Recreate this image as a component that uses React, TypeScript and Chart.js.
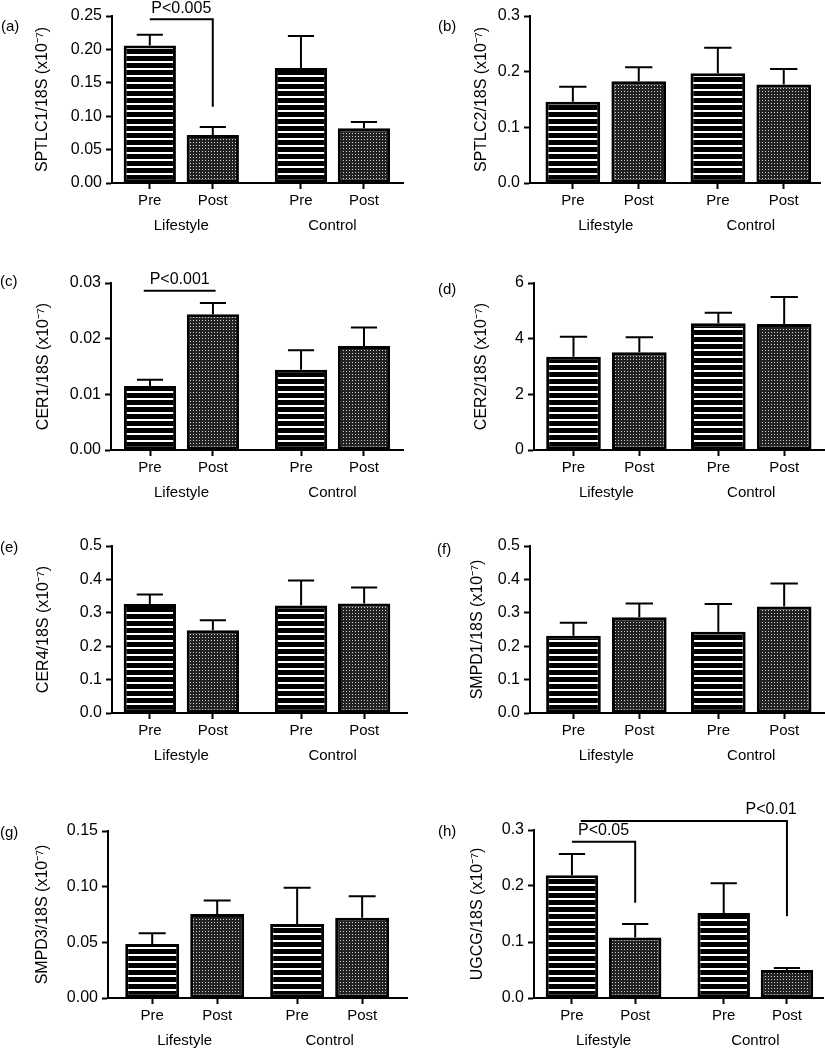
import React, { useEffect, useRef } from "react";
import { Chart, registerables } from "chart.js";

Chart.register(...registerables);

const FONT = '"Liberation Sans", Arial, Helvetica, sans-serif';

// ---------- data ----------
const categories = ["Pre", "Post", "Pre", "Post"];
const groups = ["Lifestyle", "Control"];

const sptlc1Mean = [0.206, 0.072, 0.172, 0.082];
const sptlc1Sem = [0.016, 0.012, 0.048, 0.0095];
const sptlc1Ticks = [0, 0.05, 0.1, 0.15, 0.2, 0.25];

const sptlc2Mean = [0.146, 0.183, 0.197, 0.177];
const sptlc2Sem = [0.027, 0.025, 0.046, 0.028];
const sptlc2Ticks = [0, 0.1, 0.2, 0.3];

const cer1Mean = [0.0115, 0.0244, 0.0144, 0.0187];
const cer1Sem = [0.0011, 0.002, 0.0035, 0.0033];
const cer1Ticks = [0, 0.01, 0.02, 0.03];

const cer2Mean = [3.35, 3.51, 4.55, 4.53];
const cer2Sem = [0.72, 0.54, 0.38, 0.97];
const cer2Ticks = [0, 2, 4, 6];

const cer4Mean = [0.326, 0.248, 0.322, 0.328];
const cer4Sem = [0.029, 0.03, 0.075, 0.048];
const cer4Ticks = [0, 0.1, 0.2, 0.3, 0.4, 0.5];

const smpd1Mean = [0.231, 0.287, 0.243, 0.319];
const smpd1Sem = [0.039, 0.041, 0.083, 0.069];
const smpd1Ticks = [0, 0.1, 0.2, 0.3, 0.4, 0.5];

const smpd3Mean = [0.0485, 0.0755, 0.0665, 0.072];
const smpd3Sem = [0.0096, 0.012, 0.0325, 0.0195];
const smpd3Ticks = [0, 0.05, 0.1, 0.15];

const ugcgMean = [0.219, 0.108, 0.152, 0.05];
const ugcgSem = [0.038, 0.024, 0.053, 0.0036];
const ugcgTicks = [0, 0.1, 0.2, 0.3];

type Bracket = { from: number; to: number; y: number; drop: number | null; text: string; textAt?: number };

const sptlc1Brackets: Bracket[] = [{ from: 0, to: 1, y: 0.245, drop: 0.114, text: "P<0.005" }];
const cer1Brackets: Bracket[] = [{ from: -0.1, to: 1.03, y: 0.0286, drop: null, text: "P<0.001" }];
const ugcgBrackets: Bracket[] = [
  { from: 0, to: 1, y: 0.279, drop: 0.17, text: "P<0.05" },
  { from: 0.14, to: 3, y: 0.316, drop: 0.146, text: "P<0.01", textAt: 2.75 },
];

// ---------- layout ----------
type Panel = {
  tag: string;
  ylabel: string;
  means: number[];
  sems: number[];
  yTicks: number[];
  dec: number;
  brackets: Bracket[];
  col: number;
  row: number;
  axisX: number;
  endX: number;
  plotTop: number;
  zeroY: number;
  gap: number;
  xMin: number;
  xMax: number;
  titleX: number;
  tagX: number;
  tagY: number;
};

const rowBoxes = [
  [0, 245],
  [253, 259],
  [516, 259],
  [795, 255],
];

const panels: Panel[] = [
  { tag: "(a)", ylabel: "SPTLC1/18S (x10⁻⁷)", means: sptlc1Mean, sems: sptlc1Sem, yTicks: sptlc1Ticks, dec: 2, brackets: sptlc1Brackets,
    col: 0, row: 0, axisX: 112, endX: 403, plotTop: 16, zeroY: 183, gap: 1.4, xMin: -0.6, xMax: 4.02, titleX: 42, tagX: 1, tagY: 26 },
  { tag: "(b)", ylabel: "SPTLC2/18S (x10⁻⁷)", means: sptlc2Mean, sems: sptlc2Sem, yTicks: sptlc2Ticks, dec: 1, brackets: [],
    col: 1, row: 0, axisX: 530, endX: 820, plotTop: 16, zeroY: 183, gap: 1.2, xMin: -0.65, xMax: 3.75, titleX: 481, tagX: 438, tagY: 26 },
  { tag: "(c)", ylabel: "CER1/18S (x10⁻⁷)", means: cer1Mean, sems: cer1Sem, yTicks: cer1Ticks, dec: 2, brackets: cer1Brackets,
    col: 0, row: 1, axisX: 111, endX: 403, plotTop: 283, zeroY: 450, gap: 1.4, xMin: -0.62, xMax: 4.02, titleX: 43, tagX: 0, tagY: 281 },
  { tag: "(d)", ylabel: "CER2/18S (x10⁻⁷)", means: cer2Mean, sems: cer2Sem, yTicks: cer2Ticks, dec: 0, brackets: [],
    col: 1, row: 1, axisX: 534, endX: 825, plotTop: 283, zeroY: 450, gap: 1.2, xMin: -0.6, xMax: 3.82, titleX: 481, tagX: 438, tagY: 289 },
  { tag: "(e)", ylabel: "CER4/18S (x10⁻⁷)", means: cer4Mean, sems: cer4Sem, yTicks: cer4Ticks, dec: 1, brackets: [],
    col: 0, row: 2, axisX: 112, endX: 407, plotTop: 546, zeroY: 713, gap: 1.4, xMin: -0.6, xMax: 4.08, titleX: 43, tagX: 0, tagY: 547 },
  { tag: "(f)", ylabel: "SMPD1/18S (x10⁻⁷)", means: smpd1Mean, sems: smpd1Sem, yTicks: smpd1Ticks, dec: 1, brackets: [],
    col: 1, row: 2, axisX: 530, endX: 825, plotTop: 546, zeroY: 713, gap: 1.2, xMin: -0.66, xMax: 3.82, titleX: 477, tagX: 437, tagY: 549 },
  { tag: "(g)", ylabel: "SMPD3/18S (x10⁻⁷)", means: smpd3Mean, sems: smpd3Sem, yTicks: smpd3Ticks, dec: 2, brackets: [],
    col: 0, row: 3, axisX: 108, endX: 407, plotTop: 831, zeroY: 998, gap: 1.23, xMin: -0.68, xMax: 3.92, titleX: 42, tagX: 0, tagY: 832 },
  { tag: "(h)", ylabel: "UGCG/18S (x10⁻⁷)", means: ugcgMean, sems: ugcgSem, yTicks: ugcgTicks, dec: 1, brackets: ugcgBrackets,
    col: 1, row: 3, axisX: 534, endX: 823, plotTop: 830, zeroY: 998, gap: 1.4, xMin: -0.6, xMax: 3.97, titleX: 477, tagX: 438, tagY: 831 },
];

// ---------- patterns ----------
function makeStripe(): CanvasPattern {
  const c = document.createElement("canvas");
  c.width = 4;
  c.height = 7;
  const g = c.getContext("2d")!;
  g.fillStyle = "#000";
  g.fillRect(0, 0, 4, 7);
  g.fillStyle = "#fff";
  g.fillRect(0, 5, 4, 2);
  return g.createPattern(c, "repeat")!;
}

function makeDots(): CanvasPattern {
  const c = document.createElement("canvas");
  c.width = 3;
  c.height = 3;
  const g = c.getContext("2d")!;
  g.fillStyle = "#222";
  g.fillRect(0, 0, 3, 3);
  g.fillStyle = "#cfcfcf";
  g.fillRect(1, 1, 1, 1);
  return g.createPattern(c, "repeat")!;
}

function PanelChart({ p }: { p: Panel }) {
  const ref = useRef<HTMLCanvasElement>(null);
  const x0 = p.col === 0 ? 0 : 410;
  const cw = p.col === 0 ? 410 : 415;
  const [ctop, ch] = rowBoxes[p.row];

  useEffect(() => {
    const positions = [0, 1, 1 + p.gap, 2 + p.gap];
    const posAt = (f: number) => {
      const i = Math.max(0, Math.min(Math.floor(f), 2));
      return positions[i] + (f - i) * (positions[i + 1] - positions[i]);
    };
    const stripe = makeStripe();
    const dots = makeDots();

    const errorBars = {
      id: "errorBars",
      afterDatasetsDraw(chart: any) {
        const ctx = chart.ctx;
        const xs = chart.scales.x;
        const ys = chart.scales.y;
        const meta = chart.getDatasetMeta(0);
        ctx.save();
        ctx.strokeStyle = "#000";
        ctx.lineWidth = 2;
        p.means.forEach((m, i) => {
          const bar = meta.data[i] as any;
          const x = xs.getPixelForValue(positions[i]);
          const yb = ys.getPixelForValue(m);
          const yt = ys.getPixelForValue(m + p.sems[i]);
          const hw = bar.width * 0.25;
          ctx.beginPath();
          ctx.moveTo(x, yb);
          ctx.lineTo(x, yt);
          ctx.moveTo(x - hw, yt);
          ctx.lineTo(x + hw, yt);
          ctx.stroke();
        });
        ctx.restore();
      },
    };

    const annotations = {
      id: "annotations",
      afterDraw(chart: any) {
        const ctx = chart.ctx;
        const xs = chart.scales.x;
        const ys = chart.scales.y;
        const bottom = chart.chartArea.bottom;
        ctx.save();
        ctx.fillStyle = "#000";
        ctx.font = `15px ${FONT}`;
        ctx.textAlign = "center";
        ctx.textBaseline = "middle";
        ctx.fillText(groups[0], xs.getPixelForValue((positions[0] + positions[1]) / 2), bottom + 43);
        ctx.fillText(groups[1], xs.getPixelForValue((positions[2] + positions[3]) / 2), bottom + 43);

        ctx.font = `16px ${FONT}`;
        ctx.strokeStyle = "#000";
        ctx.lineWidth = 2;
        p.brackets.forEach((b) => {
          const xa = xs.getPixelForValue(posAt(b.from));
          const xb = xs.getPixelForValue(posAt(b.to));
          const y = ys.getPixelForValue(b.y);
          ctx.beginPath();
          ctx.moveTo(xa, y);
          ctx.lineTo(xb, y);
          if (b.drop !== null) ctx.lineTo(xb, ys.getPixelForValue(b.drop));
          ctx.stroke();
          const tx = b.textAt !== undefined ? xs.getPixelForValue(posAt(b.textAt)) : (xa + xb) / 2;
          ctx.fillText(b.text, tx, y - 11);
        });
        ctx.restore();
      },
    };

    const gridOpts = {
      display: true,
      drawOnChartArea: false,
      drawTicks: true,
      tickLength: 6,
      tickColor: "#000",
      tickWidth: 2,
      offset: false,
    };
    const borderOpts = { display: true, color: "#000", width: 2 };

    const chart = new Chart(ref.current!, {
      type: "bar",
      data: {
        datasets: [
          {
            data: positions.map((x, i) => ({ x, y: p.means[i] })),
            backgroundColor: [stripe, dots, stripe, dots],
            borderColor: "#000",
            borderWidth: 3,
            borderSkipped: false,
            barPercentage: 0.83,
            categoryPercentage: 1,
          } as any,
        ],
      },
      options: {
        animation: false,
        responsive: false,
        events: [],
        layout: { padding: { top: p.plotTop - ctop, left: 0, right: x0 + cw - p.endX, bottom: 0 } },
        plugins: { legend: { display: false }, tooltip: { enabled: false }, title: { display: false } },
        scales: {
          x: {
            type: "linear",
            min: p.xMin,
            max: p.xMax,
            bounds: "data",
            offset: false,
            afterBuildTicks: (s: any) => {
              s.ticks = positions.map((v) => ({ value: v }));
            },
            afterFit: (s: any) => {
              s.height = ch - (p.zeroY - ctop);
            },
            grid: gridOpts,
            border: borderOpts,
            ticks: {
              padding: 3,
              color: "#000",
              font: { size: 15, family: FONT },
              autoSkip: false,
              maxRotation: 0,
              callback: (_v: any, i: number) => categories[i],
            },
          },
          y: {
            type: "linear",
            min: 0,
            max: p.yTicks[p.yTicks.length - 1],
            bounds: "data",
            afterBuildTicks: (s: any) => {
              s.ticks = p.yTicks.map((v) => ({ value: v }));
            },
            afterFit: (s: any) => {
              s.width = p.axisX - x0;
            },
            grid: gridOpts,
            border: borderOpts,
            ticks: {
              padding: 4,
              color: "#000",
              font: { size: 16, family: FONT },
              callback: (v: any) => Number(v).toFixed(p.dec),
            },
            title: {
              display: true,
              text: p.ylabel,
              color: "#000",
              font: { size: 16, family: FONT },
              padding: { top: p.titleX - x0 - 9, bottom: 0 },
            },
          },
        },
      } as any,
      plugins: [errorBars, annotations],
    });
    return () => chart.destroy();
  }, []);

  return (
    <canvas
      ref={ref}
      width={cw}
      height={ch}
      style={{ position: "absolute", left: x0, top: ctop, width: cw, height: ch }}
    />
  );
}

export default function App() {
  return (
    <div
      style={{
        position: "absolute",
        left: 0,
        top: 0,
        width: 825,
        height: 1050,
        background: "#fff",
        fontFamily: FONT,
        overflow: "hidden",
      }}
    >
      {panels.map((p) => (
        <PanelChart key={p.tag} p={p} />
      ))}
      {panels.map((p) => (
        <div
          key={"t" + p.tag}
          style={{
            position: "absolute",
            left: p.tagX,
            top: p.tagY - 9,
            fontSize: 15,
            lineHeight: "18px",
            color: "#000",
            whiteSpace: "nowrap",
          }}
        >
          {p.tag}
        </div>
      ))}
    </div>
  );
}
